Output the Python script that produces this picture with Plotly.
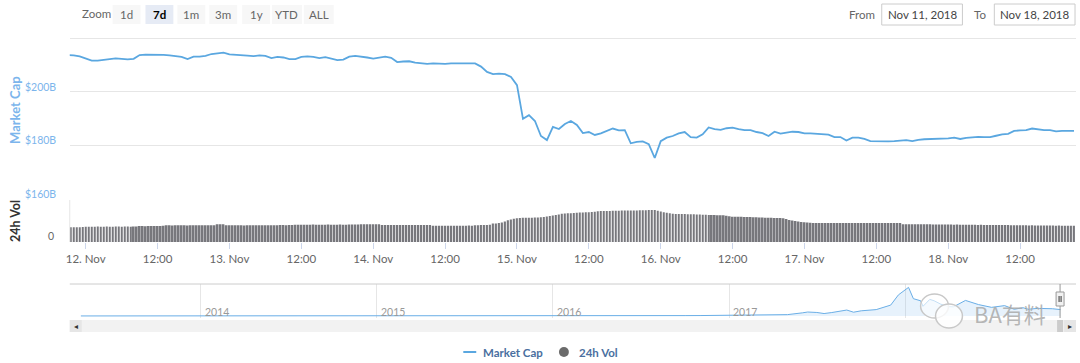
import plotly.graph_objects as go
import pandas as pd

# ---------------- data ----------------
# hourly total market cap (billion USD), 2018-11-11 21:00 .. 2018-11-18 21:00
mcap_start = "2018-11-11 21:00"
mcap = [
    213.7, 213.6, 213.2,
    212.3, 211.6, 211.6, 211.9, 212.3, 212.5, 212.3, 212.1, 212.3, 213.7, 213.9, 213.9,
    214.0, 213.8, 213.6, 213.4, 213.0, 212.2, 213.1, 213.1, 213.4, 214.1, 214.3, 214.6,
    214.0, 213.9, 213.7, 213.5, 213.3, 213.6, 213.4, 212.6, 213.0, 212.8, 212.2, 212.2,
    213.0, 213.2, 213.0, 212.6, 212.9, 212.3, 211.8, 212.0, 213.1, 213.4, 213.2, 212.8,
    212.4, 212.7, 213.1, 212.7, 211.1, 211.3, 211.4, 210.9, 210.7, 210.4, 210.6, 210.4,
    210.4, 210.6, 210.6, 210.8, 210.6, 210.6, 209.4, 207.4, 206.6, 206.8, 206.6, 205.5,
    202.5, 189.9, 191.3, 189.1, 183.5, 182.0, 186.9, 186.1, 188.0, 189.1, 187.6, 184.6,
    185.0, 183.9, 184.5, 185.4, 186.3, 185.6, 185.7, 180.8, 181.3, 181.5, 180.5, 175.3,
    181.6, 182.9, 183.5, 184.5, 185.0, 183.1, 182.9, 184.1, 186.7, 186.1, 185.8, 186.4,
    186.6, 186.1, 185.7, 185.7, 185.0, 184.6, 183.5, 185.1, 184.4, 184.8, 185.1, 185.0,
    184.5, 184.5, 184.3, 184.1, 184.0, 183.1, 183.1, 181.8, 182.9, 182.9, 182.4, 181.6,
    181.5, 181.5, 181.5, 181.6, 181.9, 182.0, 181.6, 182.1, 182.3, 182.4, 182.4, 182.4,
    182.6, 182.9, 182.4, 182.8, 183.1, 183.2, 183.1, 183.1, 183.6, 184.1, 184.3, 185.4,
    185.6, 185.7, 186.3, 185.9, 185.7, 185.7, 185.2, 185.4, 185.4, 185.4,
]

# 30-minute 24h volume (billion USD), 2018-11-11 21:30 .. 2018-11-18 21:00
vol_start = "2018-11-11 21:30"
volume = [
    14.0, 14.1, 14.0, 14.1, 14.2,
    # Nov 12
    14.6, 14.6, 14.5, 14.6, 14.7, 14.6, 14.6, 14.7, 14.6, 14.6, 14.7, 14.7,
    14.6, 14.7, 14.7, 14.6, 14.7, 14.7, 15.2, 15.2, 15.1, 15.2, 15.3, 15.2,
    15.2, 15.3, 15.4, 15.9, 15.9, 15.8, 15.9, 16.0, 15.9, 15.9, 15.8, 15.9,
    15.9, 16.0, 15.9, 15.9, 16.0, 15.9, 15.9, 16.0, 16.9, 16.9, 16.8, 15.9,
    # Nov 13
    15.9, 15.9, 16.0, 15.9, 15.9, 15.8, 15.9, 15.9, 16.0, 15.9, 15.9, 16.0,
    15.9, 16.0, 15.9, 16.0, 16.0, 16.1, 16.1, 16.0, 16.2, 16.3, 16.5, 16.5,
    16.5, 16.4, 16.5, 16.5, 16.6, 16.5, 16.5, 16.4, 16.5, 16.6, 16.5, 16.5,
    16.5, 16.6, 16.5, 16.5, 16.6, 16.7, 16.6, 16.7, 16.8, 16.9, 16.9, 16.9,
    # Nov 14
    16.9, 16.8, 16.9, 16.2, 16.2, 16.3, 16.2, 16.2, 16.1, 16.2, 16.2, 16.3,
    16.2, 16.2, 16.1, 16.2, 16.2, 16.1, 16.2, 16.2, 15.5, 15.4, 15.5, 15.5,
    15.5, 15.4, 15.5, 15.5, 15.4, 15.5, 15.5, 15.5, 15.6, 15.5, 16.0, 16.0,
    16.1, 16.2, 16.3, 16.5, 17.5, 17.6, 18.0, 18.5, 19.5, 20.6, 21.4, 22.2,
    # Nov 15
    22.6, 22.9, 23.0, 23.1, 23.2, 23.2, 23.3, 23.4, 23.5, 23.8, 24.3, 24.8,
    25.3, 25.8, 26.3, 26.8, 27.1, 27.3, 27.3, 27.5, 27.8, 28.0, 28.2, 28.3,
    28.3, 28.6, 28.9, 29.2, 29.5, 29.5, 29.5, 29.6, 29.7, 29.8, 29.8, 29.9,
    29.9, 30.0, 30.0, 30.1, 30.1, 30.2, 30.2, 30.3, 30.4, 30.5, 30.5, 29.8,
    # Nov 16
    29.0, 28.3, 27.8, 27.4, 27.0, 26.7, 26.7, 26.6, 26.6, 26.5, 26.5, 26.4,
    26.3, 26.1, 26.0, 25.9, 25.8, 25.7, 25.6, 25.5, 25.4, 25.4, 25.0, 24.6,
    24.1, 24.1, 24.0, 24.0, 23.9, 23.8, 23.7, 23.6, 23.5, 23.4, 23.3, 23.2,
    23.0, 23.0, 22.9, 22.8, 22.8, 22.7, 22.0, 21.0, 20.5, 20.0, 19.5, 19.0,
    # Nov 17
    18.8, 18.6, 18.3, 18.2, 18.1, 18.1, 18.2, 18.1, 18.1, 18.0, 18.1, 18.1,
    18.1, 18.0, 18.1, 18.1, 18.2, 18.1, 18.1, 18.1, 18.0, 18.1, 18.1, 18.0,
    18.1, 18.1, 18.0, 18.1, 18.1, 18.0, 18.1, 18.1, 18.0, 16.9, 16.9, 16.9,
    16.9, 16.9, 16.8, 16.9, 16.9, 16.9, 16.8, 16.7, 16.7, 16.7, 16.6, 16.7,
    # Nov 18
    16.6, 16.6, 16.5, 16.6, 16.5, 16.5, 16.4, 16.5, 16.4, 16.4, 16.3, 16.4,
    16.3, 16.3, 16.2, 16.3, 16.2, 16.1, 16.2, 16.1, 16.1, 16.0, 16.0, 16.0,
    15.9, 16.0, 15.9, 15.8, 15.9, 15.8, 15.8, 15.7, 15.7, 15.6, 15.7, 15.6,
    15.5, 15.6, 15.5, 15.5, 15.5, 15.4, 15.5,
]

# navigator: whole history of total market cap (billion USD)
nav_dates = [
    "2013-04-28", "2013-06-01", "2013-07-01", "2013-08-01", "2013-09-01", "2013-10-01",
    "2013-11-01", "2013-12-04", "2014-01-01", "2014-02-01", "2014-03-01", "2014-04-01",
    "2014-05-01", "2014-06-01", "2014-07-01", "2014-08-01", "2014-09-01", "2014-10-01",
    "2014-11-01", "2014-12-01", "2015-01-01", "2015-02-01", "2015-03-01", "2015-04-01",
    "2015-05-01", "2015-06-01", "2015-07-01", "2015-08-01", "2015-09-01", "2015-10-01",
    "2015-11-01", "2015-12-01", "2016-01-01", "2016-02-01", "2016-03-01", "2016-04-01",
    "2016-05-01", "2016-06-01", "2016-07-01", "2016-08-01", "2016-09-01", "2016-10-01",
    "2016-11-01", "2016-12-01", "2017-01-01", "2017-02-01", "2017-03-01", "2017-04-01",
    "2017-05-01", "2017-06-01", "2017-06-12", "2017-07-01", "2017-07-16", "2017-08-01",
    "2017-09-01", "2017-09-15", "2017-10-01", "2017-11-01", "2017-12-01", "2017-12-17",
    "2018-01-07", "2018-01-17", "2018-02-01", "2018-02-06", "2018-02-20", "2018-03-01",
    "2018-03-15", "2018-04-01", "2018-04-10", "2018-05-05", "2018-06-01", "2018-06-28",
    "2018-07-25", "2018-08-14", "2018-09-01", "2018-09-12", "2018-10-01", "2018-11-01",
    "2018-11-14", "2018-11-18",
]
nav_caps = [
    1.6, 1.4, 1.0, 1.3, 1.6, 1.6,
    2.6, 15.0, 10.0, 11.0, 7.5, 6.0,
    6.0, 8.5, 8.5, 7.8, 6.5, 5.5,
    5.0, 5.4, 4.5, 3.5, 3.6, 3.5,
    3.6, 3.5, 4.2, 4.3, 3.6, 3.7,
    5.3, 5.9, 7.0, 6.5, 7.7, 7.5,
    8.4, 10.8, 12.0, 10.7, 11.0, 11.3,
    12.8, 14.0, 17.7, 19.2, 22.5, 25.5,
    39.0, 91.0, 115.0, 102.0, 71.0, 100.0,
    172.0, 110.0, 150.0, 185.0, 315.0, 610.0,
    828.0, 500.0, 440.0, 280.0, 480.0, 440.0,
    340.0, 270.0, 265.0, 450.0, 330.0, 250.0,
    300.0, 195.0, 240.0, 195.0, 220.0, 210.0,
    203.0, 185.0,
]

x_tick_vals = pd.date_range("2018-11-12 00:00", "2018-11-18 12:00", freq="12h")
x_tick_text = ["12. Nov", "12:00", "13. Nov", "12:00", "14. Nov", "12:00", "15. Nov",
               "12:00", "16. Nov", "12:00", "17. Nov", "12:00", "18. Nov", "12:00"]
mcap_ticks = [160, 180, 200, 220]
mcap_tick_text = {160: "$160B", 180: "$180B", 200: "$200B"}
nav_years = ["2014", "2015", "2016", "2017", "2018"]
nav_year_labels = ["2014", "2015", "2016", "2017"]
zoom_buttons = ["1d", "7d", "1m", "3m", "1y", "YTD", "ALL"]
from_date_text = "Nov 11, 2018"
to_date_text = "Nov 18, 2018"

line_times = pd.date_range(mcap_start, periods=len(mcap), freq="h")
vol_times = pd.date_range(vol_start, periods=len(volume), freq="30min")

# ---------------- geometry helpers ----------------
W, H = 1080, 363
def PX(p):
    return p / W
def PY(p):
    return 1 - p / H

FONT = "Lato, 'Open Sans', sans-serif"
BLUE = "#5aa7e0"
LBLUE = "#7cb5ec"

fig = go.Figure()
fig.add_trace(go.Scatter(x=line_times, y=mcap, mode="lines",
                         line=dict(color=BLUE, width=1.8),
                         xaxis="x", yaxis="y", showlegend=False, hoverinfo="skip"))
fig.add_trace(go.Bar(x=vol_times, y=volume, marker=dict(color="#77777c", line=dict(width=0)),
                     xaxis="x", yaxis="y2", showlegend=False, hoverinfo="skip"))
fig.add_trace(go.Scatter(x=nav_dates, y=nav_caps, mode="lines",
                         line=dict(color="#6aaee6", width=1),
                         fill="tozeroy", fillcolor="rgba(124,181,236,0.18)",
                         xaxis="x3", yaxis="y3", showlegend=False, hoverinfo="skip"))

x_dom = [PX(66), PX(1076)]
px_per_b = 2.68
layout = dict(
    width=W, height=H,
    margin=dict(l=0, r=0, t=0, b=0),
    paper_bgcolor="white", plot_bgcolor="rgba(0,0,0,0)",
    bargap=0.4,
    xaxis=dict(domain=x_dom, range=["2018-11-11 21:20", "2018-11-18 21:20"], anchor="y2",
               tickvals=x_tick_vals, ticktext=x_tick_text, ticks="outside", ticklen=6,
               tickcolor="#ccd6eb", showgrid=False, showline=False, zeroline=False,
               tickfont=dict(family=FONT, size=11.5, color="#666666")),
    yaxis=dict(domain=[PY(199), PY(36)], range=[160, 160 + 163 / px_per_b], anchor="x",
               tickvals=mcap_ticks, showticklabels=False, gridcolor="#e6e6e6",
               zeroline=False, showline=False),
    yaxis2=dict(domain=[PY(242), PY(200)], range=[0, 40], anchor="x",
                showgrid=False, showticklabels=False, zeroline=False, showline=False),
    xaxis3=dict(domain=x_dom, range=["2013-04-05", "2018-12-20"], anchor="y3",
                tickvals=[y + "-01-01" for y in nav_years], showticklabels=False,
                showgrid=True, gridcolor="#e6e6e6", ticks="", zeroline=False, showline=False),
    yaxis3=dict(domain=[PY(318), PY(284)], range=[-58, 925], anchor="x3",
                showgrid=False, showticklabels=False, zeroline=False, showline=False),
)
fig.update_layout(**layout)

shapes = []
ann = []

def rect(x0, y0, x1, y1, fill, line=None, lw=1):
    shapes.append(dict(type="rect", xref="paper", yref="paper",
                       x0=PX(x0), x1=PX(x1), y0=PY(y1), y1=PY(y0),
                       fillcolor=fill, line=dict(color=line or "rgba(0,0,0,0)", width=lw if line else 0),
                       layer="above"))

def hline(x0, x1, y, color, w=1):
    shapes.append(dict(type="line", xref="paper", yref="paper", x0=PX(x0), x1=PX(x1),
                       y0=PY(y), y1=PY(y), line=dict(color=color, width=w)))

def vline(x, y0, y1, color, w=1):
    shapes.append(dict(type="line", xref="paper", yref="paper", x0=PX(x), x1=PX(x),
                       y0=PY(y0), y1=PY(y1), line=dict(color=color, width=w)))

def text(x, y, s, size=11, color="#666666", anchor="center", bold=False, family=FONT, **kw):
    ann.append(dict(xref="paper", yref="paper", x=PX(x), y=PY(y),
                    text=("<b>%s</b>" % s) if bold else s, showarrow=False,
                    xanchor=anchor, yanchor="middle",
                    font=dict(family=family, size=size, color=color), **kw))

# --- range selector ---
text(76, 14, "Zoom", size=11.5, color="#666666", anchor="left")
btn_centers = [123, 156, 188, 220, 253, 284, 316]
for lab, cx in zip(zoom_buttons, btn_centers):
    sel = lab == "7d"
    w = 14 if lab not in ("YTD", "ALL") else 15
    rect(cx - w, 5, cx + w, 24, "#e6ebf5" if sel else "#f7f7f7")
    text(cx, 14.5, lab, size=11.5, color="#000000" if sel else "#666666", bold=sel)

# --- from / to ---
text(876, 14.5, "From", size=11.5, color="#666666", anchor="right")
rect(881, 4, 962, 25, "white", "#cccccc")
text(921.5, 14.5, from_date_text, size=11.5, color="#444444")
text(988, 14.5, "To", size=11.5, color="#666666", anchor="right")
rect(994, 4, 1075, 25, "white", "#cccccc")
text(1034.5, 14.5, to_date_text, size=11.5, color="#444444")

# --- y axis labels ---
for v, s in mcap_tick_text.items():
    ann.append(dict(xref="paper", yref="y", x=PX(54), y=v, yshift=5, text=s, showarrow=False,
                    xanchor="right", yanchor="middle",
                    font=dict(family=FONT, size=10.5, color=LBLUE)))
ann.append(dict(xref="paper", yref="y2", x=PX(52), y=0, yshift=6, text="0", showarrow=False,
                xanchor="right", yanchor="middle", font=dict(family=FONT, size=10.5, color="#666666")))
text(11, 110, "Market Cap", size=13, color=LBLUE, bold=True, textangle=-90)
text(11, 221, "24h Vol", size=12.5, color="#333333", bold=True, textangle=-90)

# volume pane left border
vline(66, 200, 242, "#e6e6e6")

# --- navigator ---
hline(66, 1076, 284, "#cccccc")
for y in nav_year_labels:
    ann.append(dict(xref="x3", yref="paper", x=y + "-01-01", y=PY(312), xshift=2,
                    text=y, showarrow=False, xanchor="left", yanchor="middle",
                    font=dict(family=FONT, size=10.5, color="#999999")))
# scrollbar
rect(66, 320, 1076, 332, "#f2f2f2")
rect(66, 320, 78, 332, "#e6e6e6")
rect(1064, 320, 1076, 332, "#e6e6e6")
rect(1057, 320, 1063, 332, "#cccccc")
text(72, 326, "◂", size=8, color="#333333")
text(1070, 326, "▸", size=8, color="#333333")
# handle
vline(1060, 284, 318, "#999999")
rect(1056, 292, 1064, 306, "#f2f2f2", "#999999")
vline(1059, 296, 302, "#333333")
vline(1061, 296, 302, "#333333")

# --- legend ---
hline(461, 474, 352, BLUE, 2)
text(479, 352, "Market Cap", size=11.5, color="#4a6fa0", anchor="left", bold=True)
shapes.append(dict(type="circle", xref="paper", yref="paper", x0=PX(557), x1=PX(567),
                   y0=PY(357), y1=PY(347), fillcolor="#6b6b6b", line=dict(width=0)))
text(575, 352, "24h Vol", size=11.5, color="#4a6fa0", anchor="left", bold=True)

# --- watermark ---
shapes.append(dict(type="circle", xref="paper", yref="paper", x0=PX(920), x1=PX(948),
                   y0=PY(318), y1=PY(294), fillcolor="rgba(255,255,255,0.6)",
                   line=dict(color="#c8c8c8", width=1.5), layer="above"))
shapes.append(dict(type="circle", xref="paper", yref="paper", x0=PX(935), x1=PX(962),
                   y0=PY(328), y1=PY(304), fillcolor="rgba(255,255,255,0.8)",
                   line=dict(color="#c8c8c8", width=1.5), layer="above"))
text(1010, 313, "BA有料", size=22, color="rgba(170,170,170,0.85)",
     family="'Noto Sans CJK SC', sans-serif")

fig.update_layout(shapes=shapes, annotations=ann)
fig.write_html("out.html", config={"displayModeBar": False},
               post_script="document.body.style.margin='0';document.body.style.overflow='hidden';")
